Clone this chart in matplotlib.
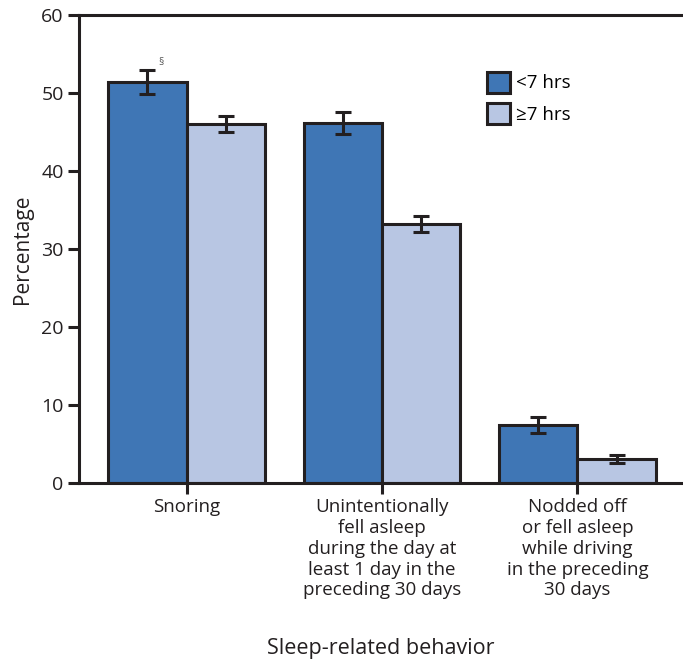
import matplotlib
matplotlib.use("Agg")
import matplotlib.pyplot as plt
import numpy as np
from matplotlib.patches import Patch

plt.rcParams['font.family'] = ['Open Sans', 'DejaVu Sans']

categories = [
    "Snoring",
    "Unintentionally\nfell asleep\nduring the day at\nleast 1 day in the\npreceding 30 days",
    "Nodded off\nor fell asleep\nwhile driving\nin the preceding\n30 days",
]
short_sleep = [51.4, 46.2, 7.4]
short_sleep_err = [1.5, 1.4, 1.0]
normal_sleep = [46.0, 33.2, 3.1]
normal_sleep_err = [1.0, 1.0, 0.5]
series_labels = ["<7 hrs", "\u22657 hrs"]
yticks = [0, 10, 20, 30, 40, 50, 60]

dark_blue = "#3f76b5"
light_blue = "#b8c6e3"
edge = "#231f20"

fig = plt.figure(figsize=(6.83, 6.62), dpi=100)
ax = fig.add_axes([0.1157, 0.2704, 0.8843, 0.7069])

x = np.arange(len(categories))
w = 0.4
err_kw = dict(ecolor=edge, elinewidth=2.2, capsize=6, capthick=2.2)
ax.bar(x - w / 2, short_sleep, w, color=dark_blue, edgecolor=edge, linewidth=2.2,
       yerr=short_sleep_err, error_kw=err_kw, zorder=2)
ax.bar(x + w / 2, normal_sleep, w, color=light_blue, edgecolor=edge, linewidth=2.2,
       yerr=normal_sleep_err, error_kw=err_kw, zorder=2)

ax.text(x[0] - w / 2 + 0.055, short_sleep[0] + short_sleep_err[0] + 0.3, "\u00a7",
        fontsize=7.5, color="#555555", ha="left", va="bottom")

ax.set_xlim(-0.55, 2.54)
ax.set_ylim(0, 60)
ax.set_yticks(yticks)
ax.set_yticklabels([str(t) for t in yticks], fontsize=14, color="#231f20")
ax.set_xticks(x)
ax.set_xticklabels(categories, fontsize=13.5, color="#231f20", linespacing=1.2)

for s in ["left", "bottom", "top"]:
    ax.spines[s].set_linewidth(2.2)
    ax.spines[s].set_color(edge)
ax.spines["right"].set_visible(False)
ax.tick_params(axis="both", direction="out", length=8, width=2.2, color=edge, pad=3)

ax.set_ylabel("Percentage", fontsize=15, color="#231f20", labelpad=6)
fig.text(0.558, 0.004, "Sleep-related behavior", fontsize=15.5, color="#231f20",
         ha="center", va="bottom")

handles = [Patch(facecolor=dark_blue, edgecolor=edge, linewidth=2.2),
           Patch(facecolor=light_blue, edgecolor=edge, linewidth=2.2)]
ax.legend(handles, series_labels, loc="upper left", bbox_to_anchor=(0.648, 0.915),
          frameon=False, fontsize=13.5, handlelength=1.2, handleheight=1.35,
          handletextpad=0.35, labelspacing=0.55)

fig.savefig("out.png", dpi=100)
